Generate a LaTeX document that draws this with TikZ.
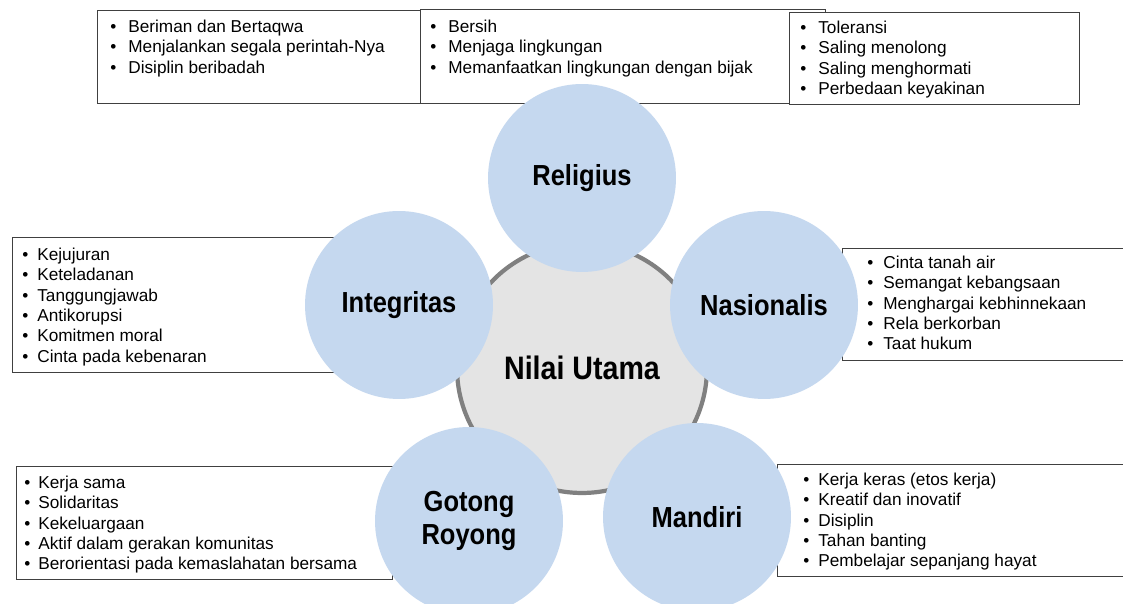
\documentclass[tikz,border=0pt]{standalone}
\usepackage{fontspec}
\setmainfont{Liberation Sans}
\newfontfamily\labelfont[FakeStretch=0.88]{Liberation Sans}
\usepackage{xcolor}
\usetikzlibrary{positioning}
\definecolor{valueblue}{RGB}{197,216,239}
\definecolor{coregray}{RGB}{228,228,228}
\definecolor{ringgray}{RGB}{128,128,128}
\definecolor{boxline}{RGB}{64,64,64}
\newcommand{\bul}[1][0.36cm]{\makebox[#1][l]{\textbullet}}
\tikzset{%
	valuebox/.style    = {draw=boxline, line width=0.8pt, fill=white, rectangle, anchor=north west, inner sep=0pt},
	valuelist/.style   = {anchor=north west, align=left, inner sep=0pt, font=\fontsize{9.8pt}{11.55pt}\selectfont},
	valuecircle/.style = {circle, fill=valueblue, minimum size=3.76cm, inner sep=0pt, align=center, font=\labelfont\fontsize{16.5pt}{18.5pt}\selectfont\bfseries},
	corecircle/.style  = {circle, fill=coregray, draw=ringgray, line width=2.4pt, minimum size=5.0cm, inner sep=0pt, font=\labelfont\fontsize{18.5pt}{20pt}\selectfont\bfseries},
}
\begin{document}
\begin{tikzpicture}[x=0.02cm,y=-0.02cm]
			\useasboundingbox[fill=white] (0,0) rectangle (1123,604);
			\node[valuebox, minimum width=6.46cm, minimum height=1.86cm] (religbox) at (97,10) {};
			\node[valuebox, minimum width=8.10cm, minimum height=1.88cm] (lingbox) at (420,9) {};
			\node[valuebox, minimum width=5.80cm, minimum height=1.84cm] (tolbox) at (789,12) {};
			\node[valuebox, minimum width=7.36cm, minimum height=2.70cm] (integbox) at (12,237) {};
			\node[valuebox, minimum width=6.00cm, minimum height=2.24cm] (nasbox) at (842,248) {};
			\node[valuebox, minimum width=7.52cm, minimum height=2.26cm] (gotbox) at (16,466) {};
			\node[valuebox, minimum width=7.20cm, minimum height=2.24cm] (manbox) at (777,464) {};
			\node[valuelist] (religlist) at ([shift={(13,8)}]religbox.north west) {\bul\strut Beriman dan Bertaqwa\\ \bul\strut Menjalankan segala perintah-Nya\\ \bul\strut Disiplin beribadah};
			\node[valuelist] (linglist) at ([shift={(10,9)}]lingbox.north west) {\bul\strut Bersih\\ \bul\strut Menjaga lingkungan\\ \bul\strut Memanfaatkan lingkungan dengan bijak};
			\node[valuelist] (tollist) at ([shift={(11,7)}]tolbox.north west) {\bul\strut Toleransi\\ \bul\strut Saling menolong\\ \bul\strut Saling menghormati\\ \bul\strut Perbedaan keyakinan};
			\node[valuelist] (integlist) at ([shift={(10,9)}]integbox.north west) {\bul[0.3cm]\strut Kejujuran\\ \bul[0.3cm]\strut Keteladanan\\ \bul[0.3cm]\strut Tanggungjawab\\ \bul[0.3cm]\strut Antikorupsi\\ \bul[0.3cm]\strut Komitmen moral\\ \bul[0.3cm]\strut Cinta pada kebenaran};
			\node[valuelist] (naslist) at ([shift={(25,6)}]nasbox.north west) {\bul[0.32cm]\strut Cinta tanah air\\ \bul[0.32cm]\strut Semangat kebangsaan\\ \bul[0.32cm]\strut Menghargai kebhinnekaan\\ \bul[0.32cm]\strut Rela berkorban\\ \bul[0.32cm]\strut Taat hukum};
			\node[valuelist] (gotlist) at ([shift={(8,8)}]gotbox.north west) {\bul[0.28cm]\strut Kerja sama\\ \bul[0.28cm]\strut Solidaritas\\ \bul[0.28cm]\strut Kekeluargaan\\ \bul[0.28cm]\strut Aktif dalam gerakan komunitas\\ \bul[0.28cm]\strut Berorientasi pada kemaslahatan bersama};
			\node[valuelist] (manlist) at ([shift={(26,7)}]manbox.north west) {\bul[0.3cm]\strut Kerja keras (etos kerja)\\ \bul[0.3cm]\strut Kreatif dan inovatif\\ \bul[0.3cm]\strut Disiplin\\ \bul[0.3cm]\strut Tahan banting\\ \bul[0.3cm]\strut Pembelajar sepanjang hayat};
			\node[corecircle] (core) at (582,368) {Nilai Utama};
			\node[valuecircle] (religius) at (582,178) {Religius};
			\node[valuecircle] (nasionalis) at (764,305) {Nasionalis};
			\node[valuecircle] (mandiri) at (697,517) {Mandiri};
			\node[valuecircle] (gotong) at (469,521) {Gotong\\Royong};
			\node[valuecircle] (integritas) at (399,305) {Integritas};
\end{tikzpicture}
\end{document}
